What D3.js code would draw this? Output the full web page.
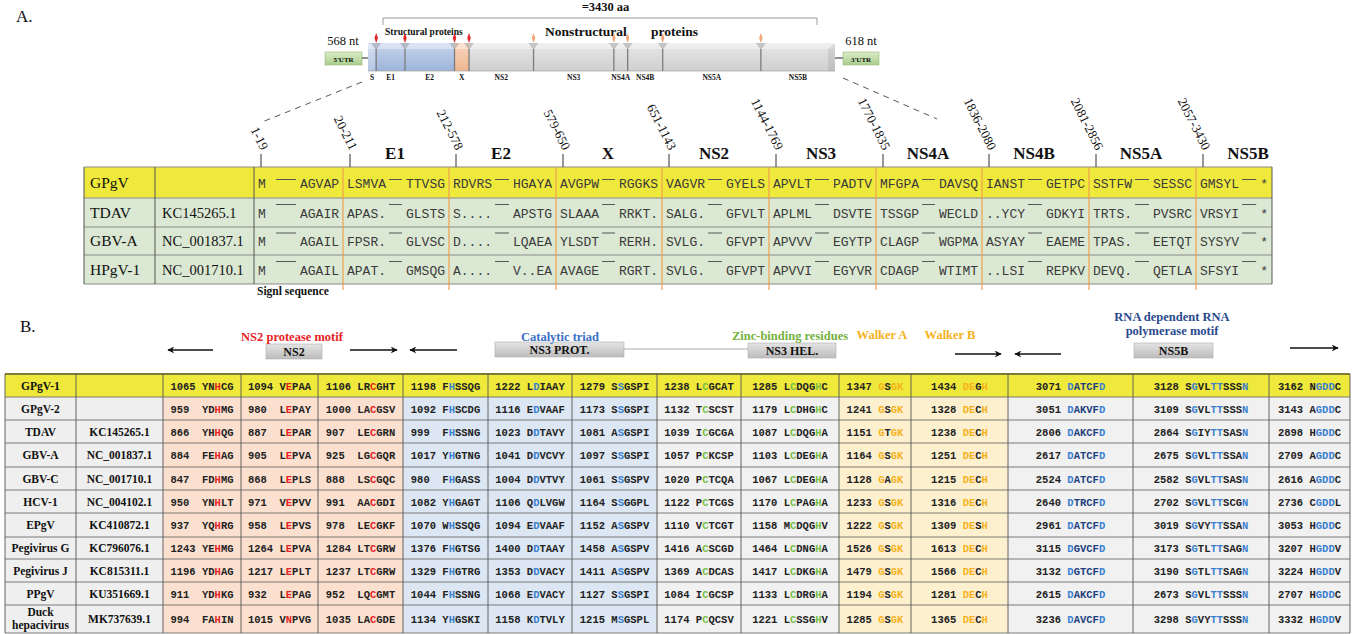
<!DOCTYPE html>
<html><head><meta charset="utf-8">
<script src="https://cdn.jsdelivr.net/npm/d3@7"></script>
<style>
html,body{margin:0;padding:0;background:#fff;}
svg{display:block;}
text{white-space:pre;}
</style></head><body>
<svg id="fig" width="1357" height="634"></svg>
<script>
// ---------------- Panel A data ----------------
const genomeSegments = ["S","E1","E2","X","NS2","NS3","NS4A","NS4B","NS5A","NS5B"];
const segmentStart = [1,20,212,579,651,1144,1770,1836,2081,2857];
const segmentEnd   = [19,211,578,650,1143,1769,1835,2080,2856,3430];
const rangeLabels  = ["1-19","20-211","212-578","579-650","651-1143","1144-1769","1770-1835","1836-2080","2081-2856","2057-3430"];
const cleavageBy   = ["host","host","host","host","viral","viral","viral","viral","viral"];
const polyproteinLabel = "=3430 aa";
const utrLabels = ["568 nt","618 nt"];

const alignTaxa = ["GPgV","TDAV","GBV-A","HPgV-1"];
const alignAccessions = ["","KC145265.1","NC_001837.1","NC_001710.1"];
const alignStartMotifs = [
  ["M","LSMVA","RDVRS","AVGPW","VAGVR","APVLT","MFGPA","IANST","SSTFW","GMSYL"],
  ["M","APAS.","S....","SLAAA","SALG.","APLML","TSSGP","..YCY","TRTS.","VRSYI"],
  ["M","FPSR.","D....","YLSDT","SVLG.","APVVV","CLAGP","ASYAY","TPAS.","SYSYV"],
  ["M","APAT.","A....","AVAGE","SVLG.","APVVI","CDAGP","..LSI","DEVQ.","SFSYI"]
];
const alignEndMotifs = [
  ["AGVAP","TTVSG","HGAYA","RGGKS","GYELS","PADTV","DAVSQ","GETPC","SESSC","*"],
  ["AGAIR","GLSTS","APSTG","RRKT.","GFVLT","DSVTE","WECLD","GDKYI","PVSRC","*"],
  ["AGAIL","GLVSC","LQAEA","RERH.","GFVPT","EGYTP","WGPMA","EAEME","EETQT","*"],
  ["AGAIL","GMSQG","V..EA","RGRT.","GFVPT","EGYVR","WTIMT","REPKV","QETLA","*"]
];

// ---------------- Panel B data ----------------
const motifTaxa = ["GPgV-1","GPgV-2","TDAV","GBV-A","GBV-C","HCV-1","EPgV","Pegivirus G","Pegivirus J","PPgV","Duck hepacivirus"];
const motifAccessions = ["","","KC145265.1","NC_001837.1","NC_001710.1","NC_004102.1","KC410872.1","KC796076.1","KC815311.1","KU351669.1","MK737639.1"];

const ns2SiteH = [[1065,"YNHCG"],[959,"YDHMG"],[866,"YHHQG"],[884,"FEHAG"],[847,"FDHMG"],[950,"YNHLT"],[937,"YQHRG"],[1243,"YEHMG"],[1196,"YDHAG"],[911,"YDHKG"],[994,"FAHIN"]];
const ns2SiteE = [[1094,"VEPAA"],[980,"LEPAY"],[887,"LEPAR"],[905,"LEPVA"],[868,"LEPLS"],[971,"VEPVV"],[958,"LEPVS"],[1264,"LEPVA"],[1217,"LEPLT"],[932,"LEPAG"],[1015,"VNPVG"]];
const ns2SiteC = [[1106,"LRCGHT"],[1000,"LACGSV"],[907,"LECGRN"],[925,"LGCGQR"],[888,"LSCGQC"],[991,"AACGDI"],[978,"LECGKF"],[1284,"LTCGRW"],[1237,"LTCGRW"],[952,"LQCGMT"],[1035,"LACGDE"]];
const triadH = [[1198,"FHSSQG"],[1092,"FHSCDG"],[999,"FHSSNG"],[1017,"YHGTNG"],[980,"FHGASS"],[1082,"YHGAGT"],[1070,"WHSSQG"],[1376,"FHGTSG"],[1329,"FHGTRG"],[1044,"FHSSNG"],[1134,"YHGSKI"]];
const triadD = [[1222,"LDIAAY"],[1116,"EDVAAF"],[1023,"DDTAVY"],[1041,"DDVCVY"],[1004,"DDVTVY"],[1106,"QDLVGW"],[1094,"EDVAAF"],[1400,"DDTAAY"],[1353,"DDVACY"],[1068,"EDVACY"],[1158,"KDTVLY"]];
const triadS = [[1279,"SSGSPI"],[1173,"SSGSPI"],[1081,"ASGSPI"],[1097,"SSGSPI"],[1061,"SSGSPV"],[1164,"SSGGPL"],[1152,"ASGSPV"],[1458,"ASGSPV"],[1411,"ASGSPV"],[1127,"SSGSPI"],[1215,"MSGSPL"]];
const zincSite1 = [[1238,"LCGCAT"],[1132,"TCSCST"],[1039,"ICGCGA"],[1057,"PCKCSP"],[1020,"PCTCQA"],[1122,"PCTCGS"],[1110,"VCTCGT"],[1416,"ACSCGD"],[1369,"ACDCAS"],[1084,"ICGCSP"],[1174,"PCQCSV"]];
const zincSite2 = [[1285,"LCDQGHC"],[1179,"LCDHGHC"],[1087,"LCDQGHA"],[1103,"LCDEGHA"],[1067,"LCDEGHA"],[1170,"LCPAGHA"],[1158,"MCDQGHV"],[1464,"LCDNGHA"],[1417,"LCDKGHA"],[1133,"LCDRGHA"],[1221,"LCSSGHV"]];
const walkerA = [[1347,"GSGK"],[1241,"GSGK"],[1151,"GTGK"],[1164,"GSGK"],[1128,"GAGK"],[1233,"GSGK"],[1222,"GSGK"],[1526,"GSGK"],[1479,"GSGK"],[1194,"GSGK"],[1285,"GSGK"]];
const walkerB = [[1434,"DEGH"],[1328,"DECH"],[1238,"DECH"],[1251,"DECH"],[1215,"DECH"],[1316,"DECH"],[1309,"DESH"],[1613,"DECH"],[1566,"DECH"],[1281,"DECH"],[1365,"DECH"]];
const rdrpMotif1 = [[3071,"DATCFD"],[3051,"DAKVFD"],[2806,"DAKCFD"],[2617,"DATCFD"],[2524,"DATCFD"],[2640,"DTRCFD"],[2961,"DATCFD"],[3115,"DGVCFD"],[3132,"DGTCFD"],[2615,"DAKCFD"],[3236,"DAVCFD"]];
const rdrpMotif2 = [[3128,"SGVLTTSSSN"],[3109,"SGVLTTSSSN"],[2864,"SGIYTTSASN"],[2675,"SGVLTTSSAN"],[2582,"SGVLTTSASN"],[2702,"SGVLTTSCGN"],[3019,"SGVYTTSSAN"],[3173,"SGTLTTSAGN"],[3190,"SGTLTTSAGN"],[2673,"SGVLTTSSSN"],[3298,"SGVYTTSSSN"]];
const rdrpMotif3 = [[3162,"NGDDC"],[3143,"AGDDC"],[2898,"HGDDC"],[2709,"AGDDC"],[2616,"AGDDC"],[2736,"CGDDL"],[3053,"HGDDC"],[3207,"HGDDV"],[3224,"HGDDV"],[2707,"HGDDC"],[3332,"HGDDV"]];

const motifTitles = ["NS2 protease motif","Catalytic triad","Zinc-binding residues","Walker A","Walker B","RNA dependent RNA","polymerase motif"];
const domainBoxes = ["NS2","NS3 PROT.","NS3 HEL.","NS5B"];

// ---------------- drawing ----------------
const SERIF = "'Liberation Serif','Times New Roman',serif";
const MONO  = "'Liberation Mono','Courier New',monospace";
const RED = "#e8221f", BLUE = "#3b7fd0", GREEN = "#78bf45", ORANGE = "#f5b21c", NAVY = "#1f3f80";

const svg = d3.select("#fig");
svg.append("rect").attr("width",1357).attr("height",634).attr("fill","#fff");
const defs = svg.append("defs");

function vGrad(id, c0, c1){
  const g = defs.append("linearGradient").attr("id",id).attr("x1",0).attr("y1",0).attr("x2",0).attr("y2",1);
  g.append("stop").attr("offset","0%").attr("stop-color",c0);
  g.append("stop").attr("offset","100%").attr("stop-color",c1);
}
vGrad("gBlue","#c8d6ee","#9cb3da");
vGrad("gPeach","#f8d6bf","#efb690");
vGrad("gGray","#e8e8e8","#cfcfcf");
vGrad("gGreen","#dcecc8","#a9cd8c");
vGrad("gBox","#e4e4e4","#bcbcbc");

defs.append("marker").attr("id","arrowHead").attr("viewBox","0 0 10 10")
  .attr("refX",9).attr("refY",5).attr("markerWidth",7).attr("markerHeight",7)
  .attr("markerUnits","userSpaceOnUse").attr("orient","auto")
  .append("path").attr("d","M0,0 L10,5 L0,10 L3,5 Z").attr("fill","#111");

function txt(g, x, y, s, o){
  o = o || {};
  return g.append("text").attr("x",x).attr("y",y)
    .attr("font-family",o.family||SERIF).attr("font-size",o.size||12)
    .attr("font-weight",o.weight||"normal").attr("fill",o.fill||"#111")
    .attr("text-anchor",o.anchor||"start").text(s);
}

// ===== Panel A =====
const A = svg.append("g");
txt(A, 16, 22, "A.", {size:17});

// genome diagram: each domain gets its aa length plus a fixed padding
const padAA = 50;
const cum = []; let total = 0;
segmentStart.forEach((s,i)=>{ cum.push(total); total += (segmentEnd[i]-s+1) + padAA; });
cum.push(total);
const gx = d3.scaleLinear().domain([0,total]).range([368,835]);
const barTop = 43, barBot = 71;

txt(A, (gx(0)+gx(total))/2 + 4, 11, polyproteinLabel, {size:12.5, weight:"bold", anchor:"middle"});
// bracket over polyprotein
A.append("path").attr("d",`M${gx(0)+15},25 V18 H${gx(total)-18} V25`)
  .attr("fill","none").attr("stroke","#999").attr("stroke-width",1);
txt(A, 385, 35, "Structural proteins", {size:9.5, weight:"bold"});
txt(A, 545, 36, "Nonstructural", {size:13.5, weight:"bold"});
txt(A, 651, 36, "proteins", {size:13.5, weight:"bold"});

// UTRs
txt(A, 343, 45, utrLabels[0], {size:12.5, anchor:"middle"});
txt(A, 861, 45, utrLabels[1], {size:12.5, anchor:"middle"});
[[325,362,"5'UTR"],[843,879,"3'UTR"]].forEach(([x0,x1,l])=>{
  A.append("rect").attr("x",x0).attr("y",52).attr("width",x1-x0).attr("height",13)
    .attr("fill","url(#gGreen)").attr("stroke","#97b97c").attr("stroke-width",0.6);
  txt(A,(x0+x1)/2,61.5,l,{size:7,weight:"bold",anchor:"middle"});
});
A.append("line").attr("x1",362).attr("x2",gx(0)).attr("y1",58).attr("y2",58).attr("stroke","#222");
A.append("line").attr("x1",gx(total)).attr("x2",843).attr("y1",58).attr("y2",58).attr("stroke","#222");

// bar segments
genomeSegments.forEach((name,i)=>{
  const x0 = gx(cum[i]), x1 = gx(cum[i+1]);
  const fill = i<3 ? "url(#gBlue)" : (i===3 ? "url(#gPeach)" : "url(#gGray)");
  A.append("rect").attr("x",x0).attr("y",barTop).attr("width",x1-x0).attr("height",barBot-barTop).attr("fill",fill);
  txt(A,(x0+x1)/2,80,name,{size:7.5,weight:"bold",anchor:"middle"});
});
// top bevel and end caps
A.append("rect").attr("x",gx(0)).attr("y",barTop).attr("width",gx(total)-gx(0)).attr("height",6)
  .attr("fill","#fff").attr("opacity",0.35);
A.append("path").attr("d",`M${gx(0)},${barTop} L${gx(0)+7},${barTop+6} V${barBot} H${gx(0)} Z`).attr("fill","#fff").attr("opacity",0.25);
A.append("path").attr("d",`M${gx(total)},${barTop} L${gx(total)-7},${barTop+6} V${barBot} H${gx(total)} Z`).attr("fill","#000").attr("opacity",0.08);
A.append("line").attr("x1",gx(0)).attr("x2",gx(total)).attr("y1",barBot).attr("y2",barBot).attr("stroke","#aaa").attr("stroke-width",0.8);
// cleavage boundaries and markers
cleavageBy.forEach((kind,i)=>{
  const x = gx(cum[i+1]);
  A.append("path").attr("d",`M${x-5},${barTop} L${x+5},${barTop} L${x},${barTop+7} Z`).attr("fill","#000").attr("opacity",0.18);
  A.append("line").attr("x1",x).attr("x2",x).attr("y1",barTop+6).attr("y2",barBot).attr("stroke","#7c7c7c").attr("stroke-width",1.3);
  const col = kind==="host" ? "#e3262b" : "#f0a77a";
  A.append("path").attr("transform",`translate(${x},${38}) scale(0.6,1)`)
    .attr("d",d3.symbol(d3.symbolDiamond, 30)()).attr("fill",col);
});

// dashed zoom lines
A.append("line").attr("x1",gx(0)-6).attr("y1",82).attr("x2",262).attr("y2",122)
  .attr("stroke","#555").attr("stroke-dasharray","6,5").attr("stroke-width",1);
A.append("line").attr("x1",gx(total)+8).attr("y1",78).attr("x2",937).attr("y2",119)
  .attr("stroke","#555").attr("stroke-dasharray","6,5").attr("stroke-width",1);

// alignment table
const aRows = [167,198,227,255,284];
const aCols = [84,155,254];
const segEdges = [254,343,449,556,662,769,876,982,1089,1196,1272];
const rowFill = ["#efe93c","#dbe8d3","#dbe8d3","#dbe8d3"];
alignTaxa.forEach((t,r)=>{
  A.append("rect").attr("x",aCols[0]).attr("y",aRows[r]).attr("width",segEdges[segEdges.length-1]-aCols[0])
    .attr("height",aRows[r+1]-aRows[r]).attr("fill",rowFill[r]);
});
// grid
aRows.forEach(y=>A.append("line").attr("x1",aCols[0]).attr("x2",segEdges[segEdges.length-1]).attr("y1",y).attr("y2",y).attr("stroke","#8a8a8a").attr("stroke-width",1));
[aCols[0],aCols[1],aCols[2],segEdges[segEdges.length-1]].forEach(x=>A.append("line").attr("x1",x).attr("x2",x).attr("y1",aRows[0]).attr("y2",aRows[4]).attr("stroke","#555").attr("stroke-width",1));
segEdges.slice(1,-1).forEach(x=>A.append("line").attr("x1",x).attr("x2",x).attr("y1",aRows[0]).attr("y2",aRows[4]+6).attr("stroke","#f0a04e").attr("stroke-width",1.2));

// ticks, range labels, domain names
rangeLabels.forEach((l,i)=>{
  const x = segEdges[i]+7;
  A.append("line").attr("x1",x).attr("x2",x).attr("y1",154).attr("y2",aRows[0]).attr("stroke","#333");
  A.append("text").attr("transform",`translate(${x},151) rotate(63)`).attr("text-anchor","end")
    .attr("font-family",SERIF).attr("font-size",13).attr("fill","#111").text(l);
  if(i>0) txt(A, segEdges[i]+52, 159, genomeSegments[i], {size:17, weight:"bold", anchor:"middle"});
});

// rows of sequence
alignTaxa.forEach((t,r)=>{
  const yc = (aRows[r]+aRows[r+1])/2;
  txt(A, aCols[0]+6, yc+5, t, {size:15.5});
  txt(A, aCols[1]+7, yc+5, alignAccessions[r], {size:14.5});
  alignStartMotifs[r].forEach((m,c)=>{
    const x0 = segEdges[c], x1 = segEdges[c+1];
    const lt = txt(A, x0+4, yc+5, m, {family:MONO, size:13, fill:"#3a3a3a"});
    const rt = txt(A, x1-4, yc+5, alignEndMotifs[r][c], {family:MONO, size:13, fill:"#3a3a3a", anchor:"end"});
    const lEnd = x0+4+lt.node().getComputedTextLength();
    const rStart = x1-4-rt.node().getComputedTextLength();
    const xb = rStart-4, xa = Math.max(lEnd+3, xb-20);
    const ly = r===0 ? yc-3 : yc-8;
    A.append("line").attr("x1",xa).attr("x2",xb).attr("y1",ly).attr("y2",ly).attr("stroke","#555").attr("stroke-width",1);
  });
});
txt(A, 257, 295, "Signl sequence", {size:11.5, weight:"bold"});

// ===== Panel B =====
const B = svg.append("g");
txt(B, 20, 332, "B.", {size:17});

function arrow(x1,x2,y){
  B.append("line").attr("x1",x1).attr("x2",x2).attr("y1",y).attr("y2",y)
    .attr("stroke","#111").attr("stroke-width",1.4).attr("marker-end","url(#arrowHead)");
}
function domainBox(x0,x1,y0,y1,label){
  B.append("rect").attr("x",x0).attr("y",y0).attr("width",x1-x0).attr("height",y1-y0)
    .attr("fill","url(#gBox)").attr("stroke","#b0b0b0").attr("stroke-width",0.6);
  txt(B,(x0+x1)/2,y1-3.5,label,{size:12,weight:"bold",anchor:"middle"});
}
arrow(213,168,350);
domainBox(266,322,344,359,domainBoxes[0]);
txt(B,292,341,motifTitles[0],{size:12.5,weight:"bold",fill:RED,anchor:"middle"});
arrow(350,397,350);
arrow(457,410,350);
B.append("line").attr("x1",624).attr("x2",748).attr("y1",349).attr("y2",349).attr("stroke","#aaa").attr("stroke-width",1.2);
domainBox(495,624,342,357,domainBoxes[1]);
txt(B,560,341,motifTitles[1],{size:12.5,weight:"bold",fill:"#3a6fc6",anchor:"middle"});
domainBox(748,836,343,358,domainBoxes[2]);
txt(B,790,340,motifTitles[2],{size:12.5,weight:"bold",fill:"#74b13e",anchor:"middle"});
txt(B,882,339,motifTitles[3],{size:12.5,weight:"bold",fill:ORANGE,anchor:"middle"});
txt(B,950,339,motifTitles[4],{size:12.5,weight:"bold",fill:ORANGE,anchor:"middle"});
arrow(955,1001,354);
arrow(1061,1015,354);
txt(B,1172,321,motifTitles[5],{size:12.5,weight:"bold",fill:"#2b4a8e",anchor:"middle"});
txt(B,1172,335,motifTitles[6],{size:12.5,weight:"bold",fill:"#2b4a8e",anchor:"middle"});
domainBox(1134,1213,343,358,domainBoxes[3]);
arrow(1290,1338,348);

// motif table
const bColEdges = [5,76,163,241,318,403,488,572,657,741,839,911,1008,1133,1269,1350];
const bRowH = [23,23,23,24,23,23,24,22,23,23,28];
const bRows = [374]; bRowH.forEach(h=>bRows.push(bRows[bRows.length-1]+h));
const motifColumns = [ns2SiteH,ns2SiteE,ns2SiteC,triadH,triadD,triadS,zincSite1,zincSite2,walkerA,walkerB,rdrpMotif1,rdrpMotif2,rdrpMotif3];
const colStyle = [
  {bg:"#fbe0cf", hl:[2], c:RED},
  {bg:"#fbe0cf", hl:[1], c:RED},
  {bg:"#fbe0cf", hl:[2], c:RED},
  {bg:"#dce7f3", hl:[1], c:BLUE},
  {bg:"#dce7f3", hl:[1], c:BLUE},
  {bg:"#dce7f3", hl:[1], c:BLUE},
  {bg:"#f1f1f1", hl:[1], c:GREEN},
  {bg:"#f1f1f1", hl:[1,5], c:GREEN},
  {bg:"#fdf0cf", hl:[0,2,3], c:ORANGE},
  {bg:"#fdf0cf", hl:[0,1,3], c:ORANGE},
  {bg:"#f1f1f1", hl:[0,5], c:BLUE, base:NAVY},
  {bg:"#f1f1f1", hl:[1,4,5,9], c:BLUE},
  {bg:"#f1f1f1", hl:[1,2,3], c:BLUE}
];

motifTaxa.forEach((t,r)=>{
  const y0 = bRows[r], y1 = bRows[r+1], yc = (y0+y1)/2;
  // background cells
  for(let c=0;c<bColEdges.length-1;c++){
    let bg = c<2 ? "#efefef" : colStyle[c-2].bg;
    if(r===0) bg = "#efe93c";
    B.append("rect").attr("x",bColEdges[c]).attr("y",y0).attr("width",bColEdges[c+1]-bColEdges[c]).attr("height",y1-y0).attr("fill",bg);
  }
  // taxon name
  if(t.indexOf(" ")>0 && t.length>12){
    const parts = t.split(" ");
    txt(B,(bColEdges[0]+bColEdges[1])/2,yc-3,parts[0],{size:11.5,weight:"bold",anchor:"middle"});
    txt(B,(bColEdges[0]+bColEdges[1])/2,yc+10,parts[1],{size:11.5,weight:"bold",anchor:"middle"});
  } else {
    txt(B,(bColEdges[0]+bColEdges[1])/2,yc+4,t,{size:11.5,weight:"bold",anchor:"middle"});
  }
  txt(B,(bColEdges[1]+bColEdges[2])/2,yc+4,motifAccessions[r],{size:11.5,weight:"bold",anchor:"middle"});
  // motif cells
  motifColumns.forEach((col,c)=>{
    const [num,motif] = col[r];
    const st = colStyle[c];
    const cx = (bColEdges[c+2]+bColEdges[c+3])/2;
    const tx = B.append("text").attr("x",cx).attr("y",yc+4).attr("text-anchor","middle")
      .attr("font-family",MONO).attr("font-weight","bold").attr("font-size",10.5)
      .attr("xml:space","preserve");
    tx.append("tspan").attr("fill","#222").text(String(num).padEnd(4," ")+" ");
    motif.split("").forEach((ch,k)=>{
      tx.append("tspan").attr("fill", st.hl.includes(k) ? st.c : (st.base||"#222")).text(ch);
    });
  });
});
// grid lines
bRows.forEach((y,i)=>B.append("line").attr("x1",bColEdges[0]).attr("x2",bColEdges[bColEdges.length-1]).attr("y1",y).attr("y2",y)
  .attr("stroke", i===0 ? "#7d7a3a" : "#6e6e6e").attr("stroke-width", i===0 ? 2 : 0.9));
bColEdges.forEach(x=>B.append("line").attr("x1",x).attr("x2",x).attr("y1",bRows[0]).attr("y2",bRows[bRows.length-1])
  .attr("stroke","#555").attr("stroke-width",0.9));
</script>
</body></html>
